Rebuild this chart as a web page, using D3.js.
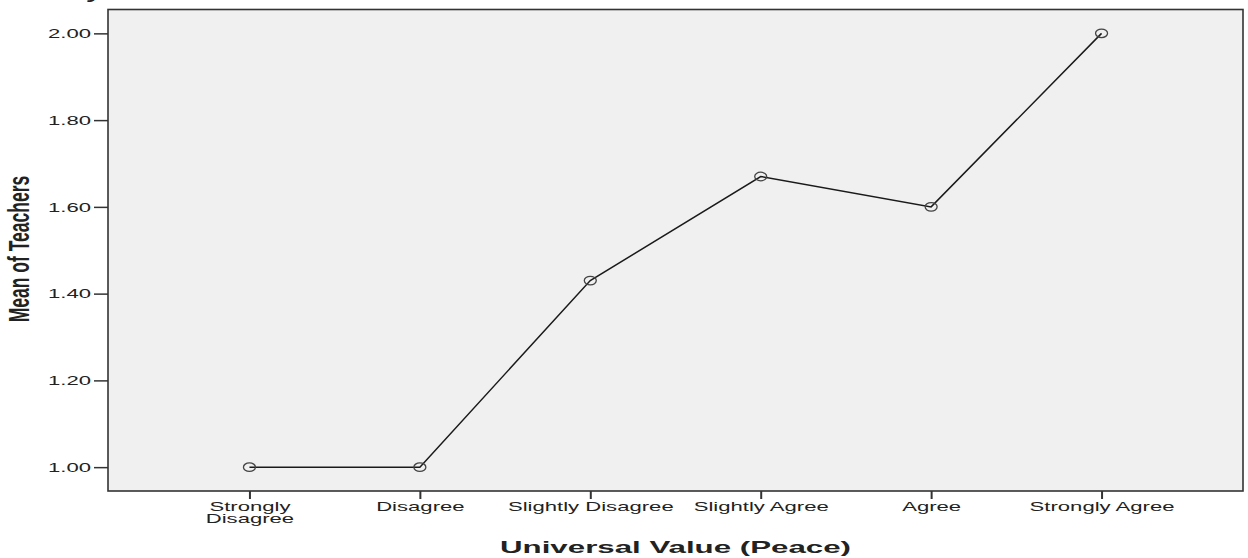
<!DOCTYPE html>
<html>
<head>
<meta charset="utf-8">
<script src="https://cdn.jsdelivr.net/npm/d3@7"></script>
<style>
  body { margin: 0; background: #fff; }
  text { font-family: "Liberation Sans", Arial, sans-serif; fill: #222; }
</style>
</head>
<body>
<div id="container"></div>
<script>
// chart data
const categories = ["Strongly Disagree", "Disagree", "Slightly Disagree", "Slightly Agree", "Agree", "Strongly Agree"];
const tickLabels = [["Strongly", "Disagree"], ["Disagree"], ["Slightly Disagree"], ["Slightly Agree"], ["Agree"], ["Strongly Agree"]];
const meanTeachers = [1.00, 1.00, 1.43, 1.67, 1.60, 2.00];
const yTicks = [1.00, 1.20, 1.40, 1.60, 1.80, 2.00];

const width = 1248, height = 558;
const margin = ({top: 9.5, right: 5, bottom: 67, left: 108});
const sx = 1.7; // the source picture is stretched sideways

const svg = d3.select("#container").append("svg")
    .attr("width", width)
    .attr("height", height);

const x = d3.scalePoint()
    .domain(categories)
    .range([margin.left, width - margin.right])
    .padding(0.83);

const y = d3.scaleLinear()
    .domain([0.945, 2.055])
    .range([height - margin.bottom, margin.top]);

// plot background
svg.append("rect")
    .attr("x", margin.left)
    .attr("y", margin.top)
    .attr("width", width - margin.right - margin.left)
    .attr("height", height - margin.bottom - margin.top)
    .attr("fill", "#f0f0f0")
    .attr("stroke", "#333")
    .attr("stroke-width", 1.6);

// y axis
const yAxis = svg.append("g")
    .attr("transform", `translate(${margin.left},0)`)
    .call(d3.axisLeft(y).tickValues(yTicks).tickSize(14).tickPadding(3).tickFormat(d3.format(".2f")));
yAxis.select(".domain").remove();
yAxis.selectAll(".tick line").attr("stroke", "#333").attr("stroke-width", 1.5);
yAxis.selectAll(".tick text")
    .attr("font-size", 13)
    .attr("font-family", null)
    .attr("fill", "#222")
    .attr("x", 0).attr("dy", null)
    .attr("dominant-baseline", "central")
    .attr("transform", `translate(-17,0) scale(${sx},1)`);

// x axis
const xAxis = svg.append("g")
    .attr("transform", `translate(0,${height - margin.bottom})`)
    .call(d3.axisBottom(x).tickSize(8).tickFormat(""));
xAxis.select(".domain").remove();
xAxis.selectAll(".tick line").attr("stroke", "#333").attr("stroke-width", 2);
xAxis.selectAll(".tick text").remove();
xAxis.selectAll(".tick").each(function(d, i) {
    const t = d3.select(this).append("text")
        .attr("font-size", 13)
        .attr("text-anchor", "middle")
        .attr("transform", `translate(0,20) scale(${sx},1)`);
    tickLabels[i].forEach((line, j) => {
        t.append("tspan").attr("x", 0).attr("y", j * 12).text(line);
    });
});

// line and markers
const line = d3.line()
    .x((d, i) => x(categories[i]))
    .y(d => y(d));

svg.append("path")
    .datum(meanTeachers)
    .attr("fill", "none")
    .attr("stroke", "#1a1a1a")
    .attr("stroke-width", 1.5)
    .attr("d", line);

svg.selectAll(".marker")
    .data(meanTeachers)
    .enter()
    .append("ellipse")
    .attr("class", "marker")
    .attr("cx", (d, i) => x(categories[i]))
    .attr("cy", d => y(d))
    .attr("rx", 6)
    .attr("ry", 4.3)
    .attr("fill", "none")
    .attr("stroke", "#444")
    .attr("stroke-width", 1.3);

// axis titles
svg.append("text")
    .attr("transform", `translate(${(margin.left + width - margin.right) / 2},553) scale(1.84,1)`)
    .attr("text-anchor", "middle")
    .attr("font-size", 17)
    .attr("font-weight", "bold")
    .attr("fill", "#111")
    .text("Universal Value (Peace)");

svg.append("text")
    .attr("transform", "translate(29,249) scale(1.65,1) rotate(-90)")
    .attr("text-anchor", "middle")
    .attr("font-size", 17.5)
    .attr("font-weight", "bold")
    .attr("fill", "#111")
    .text("Mean of Teachers");

// clipped remnant of a caption above the chart
svg.append("text")
    .attr("transform", "translate(86,-1) scale(1.6,1)")
    .attr("font-size", 17)
    .attr("font-weight", "bold")
    .attr("fill", "#111")
    .text("y");
</script>
</body>
</html>
